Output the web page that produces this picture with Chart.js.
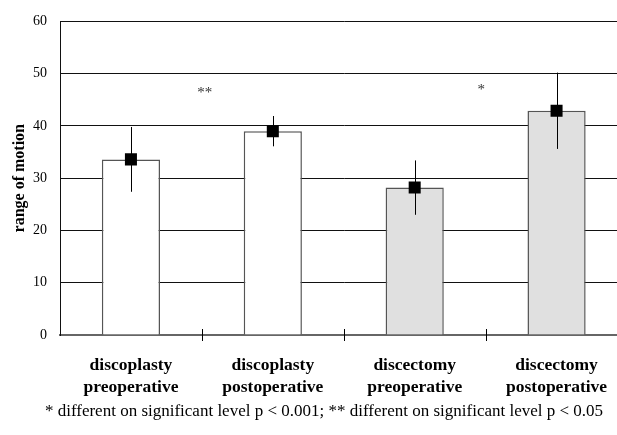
<!DOCTYPE html>
<html>
<head>
<meta charset="utf-8">
<script src="https://cdn.jsdelivr.net/npm/chart.js@4/dist/chart.umd.min.js"></script>
<style>
  html, body { margin: 0; padding: 0; background: #fff; overflow: hidden; }
</style>
</head>
<body>
<canvas id="chartRom" width="636" height="435"></canvas>
<script>
// data
const categories = [
  ['discoplasty', 'preoperative'],
  ['discoplasty', 'postoperative'],
  ['discectomy', 'preoperative'],
  ['discectomy', 'postoperative']
];
const means = [33.6, 39.0, 28.2, 42.9];
const errors = [6.2, 2.9, 5.2, 7.3];
const barColors = ['#ffffff', '#ffffff', '#e0e0e0', '#e0e0e0'];
const yTicks = [0, 10, 20, 30, 40, 50, 60];
const sigMarks = ['**', '*'];
const sigPos = [0.52, 2.47];
const sigY = [46.3, 46.8];
const footnote = '* different on significant level p < 0.001; ** different on significant level p < 0.05';

const serif = "'Liberation Serif', 'DejaVu Serif', serif";

// error bars, separator ticks, asterisks, footnote
const extras = {
  id: 'extras',
  afterDatasetsDraw(chart) {
    const c = chart.ctx;
    const x = chart.scales.x;
    const y = chart.scales.y;
    c.save();
    c.strokeStyle = '#000';
    c.lineWidth = 1;
    means.forEach((m, i) => {
      const px = Math.round(x.getPixelForValue(i)) + 0.5;
      c.beginPath();
      c.moveTo(px, y.getPixelForValue(m + errors[i]));
      c.lineTo(px, y.getPixelForValue(m - errors[i]));
      c.stroke();
    });
    // small ticks between the categories
    const bottom = chart.chartArea.bottom;
    for (let i = 0; i < categories.length - 1; i++) {
      const px = Math.round((x.getPixelForValue(i) + x.getPixelForValue(i + 1)) / 2) + 0.5;
      c.beginPath();
      c.moveTo(px, bottom - 6);
      c.lineTo(px, bottom + 6);
      c.stroke();
    }
    c.restore();
  },
  afterDraw(chart) {
    const c = chart.ctx;
    const x = chart.scales.x;
    const y = chart.scales.y;
    c.save();
    c.fillStyle = '#333';
    c.textAlign = 'center';
    c.textBaseline = 'middle';
    c.font = '15px ' + serif;
    sigMarks.forEach((s, i) => {
      const i0 = Math.floor(sigPos[i]);
      const x0 = x.getPixelForValue(i0);
      const x1 = x.getPixelForValue(i0 + 1);
      c.fillText(s, x0 + (x1 - x0) * (sigPos[i] - i0), y.getPixelForValue(sigY[i]));
    });
    c.fillStyle = '#000';
    c.font = '17px ' + serif;
    c.fillText(footnote, 324, 412);
    c.restore();
  }
};

const ctx = document.getElementById('chartRom').getContext('2d');
new Chart(ctx, {
  data: {
    labels: categories,
    datasets: [
      {
        type: 'scatter',
        label: 'mean',
        data: means.map((m, i) => ({ x: i, y: m })),
        pointStyle: 'rect',
        pointRadius: 8.5,
        pointHoverRadius: 8.5,
        backgroundColor: '#000',
        borderColor: '#000',
        borderWidth: 0,
        showLine: false,
        order: 0
      },
      {
        type: 'bar',
        label: 'range of motion',
        data: means,
        backgroundColor: barColors,
        borderColor: '#555',
        borderWidth: 1.5,
        barPercentage: 0.41,
        categoryPercentage: 1,
        order: 1
      }
    ]
  },
  options: {
    responsive: false,
    animation: false,
    layout: { padding: { top: 20, right: 0, bottom: 0, left: 0 } },
    scales: {
      x: {
        type: 'category',
        offset: true,
        grid: { display: false, drawTicks: false },
        border: { display: true, color: '#666', width: 2 },
        ticks: {
          color: '#000',
          font: { family: serif, size: 17.5, weight: 'bold', lineHeight: 1.25 },
          padding: 20,
          maxRotation: 0,
          autoSkip: false
        },
        afterFit(scale) { scale.height = 100; }
      },
      y: {
        min: 0,
        max: 60,
        afterBuildTicks(scale) { scale.ticks = yTicks.map(v => ({ value: v })); },
        grid: { color: '#111', lineWidth: 1, drawTicks: false },
        border: { display: true, color: '#111', width: 1 },
        ticks: {
          color: '#000',
          font: { family: serif, size: 14 },
          padding: 13
        },
        title: {
          display: true,
          text: 'range of motion',
          color: '#000',
          font: { family: serif, size: 16, weight: 'bold' },
          padding: { top: 10, bottom: 0 }
        },
        afterFit(scale) { scale.width = 60; }
      }
    },
    plugins: {
      legend: { display: false },
      tooltip: { enabled: false }
    }
  },
  plugins: [extras]
});
</script>
</body>
</html>
